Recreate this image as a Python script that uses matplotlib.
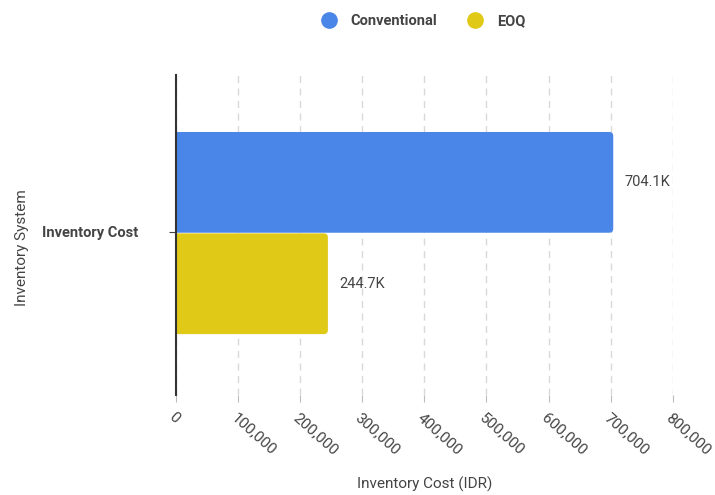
import matplotlib.pyplot as plt
from matplotlib.ticker import FuncFormatter
from matplotlib.lines import Line2D
from matplotlib.patches import FancyBboxPatch

plt.rcParams['font.family'] = ['Roboto', 'DejaVu Sans']

category = ["Inventory Cost"]
series_names = ["Conventional", "EOQ"]
series_values = [704100, 244700]
value_labels = ["704.1K", "244.7K"]
colors = ["#4a86e8", "#e0c917"]
xticks = [0, 100000, 200000, 300000, 400000, 500000, 600000, 700000, 800000]

fig = plt.figure(figsize=(7.15, 4.95), dpi=100)
ax = fig.add_axes([0.246, 0.202, 0.695, 0.646])
ax.set_xlim(0, 800000)
ax.set_ylim(-0.5, 0.5)

# rounded right ends (approx 4px radius)
r = 6400
aspect = (1 / 320) / (800000 / 497)

offsets = [0.165, -0.152]
for name, val, lab, c, off in zip(series_names, series_values, value_labels, colors, offsets):
    bars = ax.barh(off, val, height=0.315, color=c, label=name, zorder=3)
    for b in bars:
        x, y, w, h = b.get_x(), b.get_y(), b.get_width(), b.get_height()
        b.set_visible(False)
        p = FancyBboxPatch((x - r, y), w + r, h, boxstyle=f"round,pad=0,rounding_size={r}",
                           mutation_aspect=aspect, facecolor=c, edgecolor="none", zorder=3)
        ax.add_patch(p)
    ax.text(val + 18000, off, lab, va="center", ha="left", fontsize=10.5, color="#444444")

ax.set_xticks(xticks)
ax.xaxis.set_major_formatter(FuncFormatter(lambda v, p: f"{int(v):,}"))
for t in ax.get_xticklabels():
    t.set_rotation(-42)
    t.set_ha("left")
    t.set_va("top")
    t.set_rotation_mode("anchor")
ax.tick_params(axis="x", colors="#bbbbbb", labelcolor="#444444", labelsize=11, length=5, pad=6)
ax.set_yticks([0.01])
ax.set_yticklabels(category, fontweight="bold")
ax.tick_params(axis="y", colors="#444444", labelsize=10.5, length=5, pad=22)

ax.grid(axis="x", color="#d9d9d9", linestyle=(0, (5, 4)), linewidth=1, zorder=0)
for s in ["top", "right", "bottom"]:
    ax.spines[s].set_visible(False)
ax.spines["left"].set_color("#333333")
ax.spines["left"].set_linewidth(1.5)
ax.spines["left"].set_zorder(4)

ax.set_xlabel("Inventory Cost (IDR)", fontsize=11, color="#444444", labelpad=14)
fig.text(0.031, 0.5, "Inventory System", rotation=90, va="center", ha="center", fontsize=11, color="#444444")

handles = [Line2D([], [], marker="o", linestyle="", markersize=11, color=c) for c in colors]
fig.legend(handles, series_names, loc="center", bbox_to_anchor=(0.587, 0.958), ncol=2, frameon=False,
           handletextpad=0.5, columnspacing=1.6, labelcolor="#444444",
           prop={"weight": "bold", "size": 10.5})

fig.savefig("out.png", dpi=100)
